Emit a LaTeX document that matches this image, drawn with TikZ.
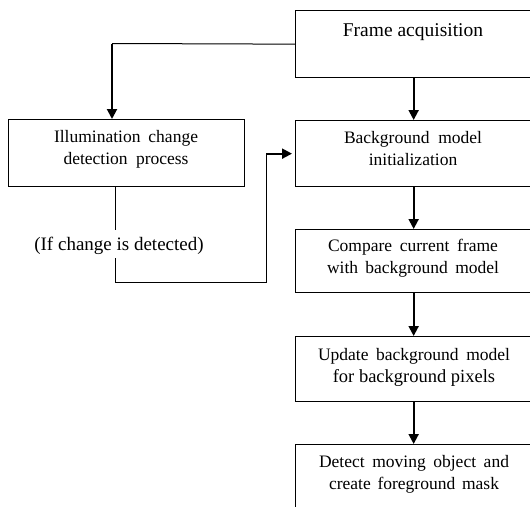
\documentclass[tikz,border=0pt]{standalone}
\usepackage{fontspec}
\setmainfont{Liberation Serif}
\usetikzlibrary{arrows.meta}
\begin{document}
\begin{tikzpicture}[x=1pt,y=-1pt,
  box/.style={draw, line width=1.3pt, minimum width=236pt, minimum height=66pt, inner sep=0pt, anchor=north west},
  txt/.style={font=\fontsize{17.5}{22}\selectfont, align=center, inner sep=0pt},
  arr/.style={-{Triangle[width=10pt,length=10pt]}, line width=2pt},
  ln/.style={line width=1pt}]
\useasboundingbox (0,0) rectangle (530,506);
\clip (0,0) rectangle (530,506);
% boxes
\node[box, minimum height=67pt] (fa) at (295,10) {};
\node[box] (bg) at (295,120) {};
\node[box, minimum height=63pt] (cmp) at (295,229) {};
\node[box, minimum height=65pt] (upd) at (295,336) {};
\node[box, minimum height=70pt] (det) at (295,444) {};
\node[box, minimum height=67pt] (ill) at (8,119) {};
% texts
\node[txt, font=\fontsize{19.5}{22}\selectfont] (fat) at (413,32) {Frame acquisition};
\node[txt] (bgt) at (413,149) {\makebox[138pt][s]{Background model}\\initialization};
\node[txt] (illt) at (126,149) {\makebox[144pt][s]{Illumination change}\\\makebox[125pt][s]{detection process}};
\node[txt] (cmpt) at (413,258) {\makebox[170pt][s]{Compare current frame}\\\makebox[172pt][s]{with background model}};
\node[txt] (updt) at (414,367) {\makebox[192pt][s]{Update background model}\\{\fontsize{18.5}{22}\selectfont for background pixels}};
\node[txt] (dett) at (414,474) {\makebox[190pt][s]{Detect moving object and}\\\makebox[170pt][s]{create foreground mask}};
\node[font=\fontsize{19}{22}\selectfont, inner sep=0pt] (cond) at (119,246) {(If change is detected)};
% connectors
\draw[arr] (fa) -- (bg);
\draw[arr] (bg) -- (cmp);
\draw[arr] (cmp) -- (upd);
\draw[arr] (upd) -- (det);
\coordinate (k1) at (112,43.5);
\draw[ln] (fa.west) -- (k1);
\draw[arr] (k1) -- (k1 |- ill.north);
\coordinate (k2) at (115,230);
\draw[ln] (k2 |- ill.south) -- (k2);
\coordinate (k3) at (115,258);
\coordinate (k4) at (266,282);
\draw[ln] (k3) |- (k4) -- (k4 |- bg.west);
\draw[arr, shorten >=3pt] (k4 |- bg.west) -- (bg.west);
\end{tikzpicture}
\end{document}
